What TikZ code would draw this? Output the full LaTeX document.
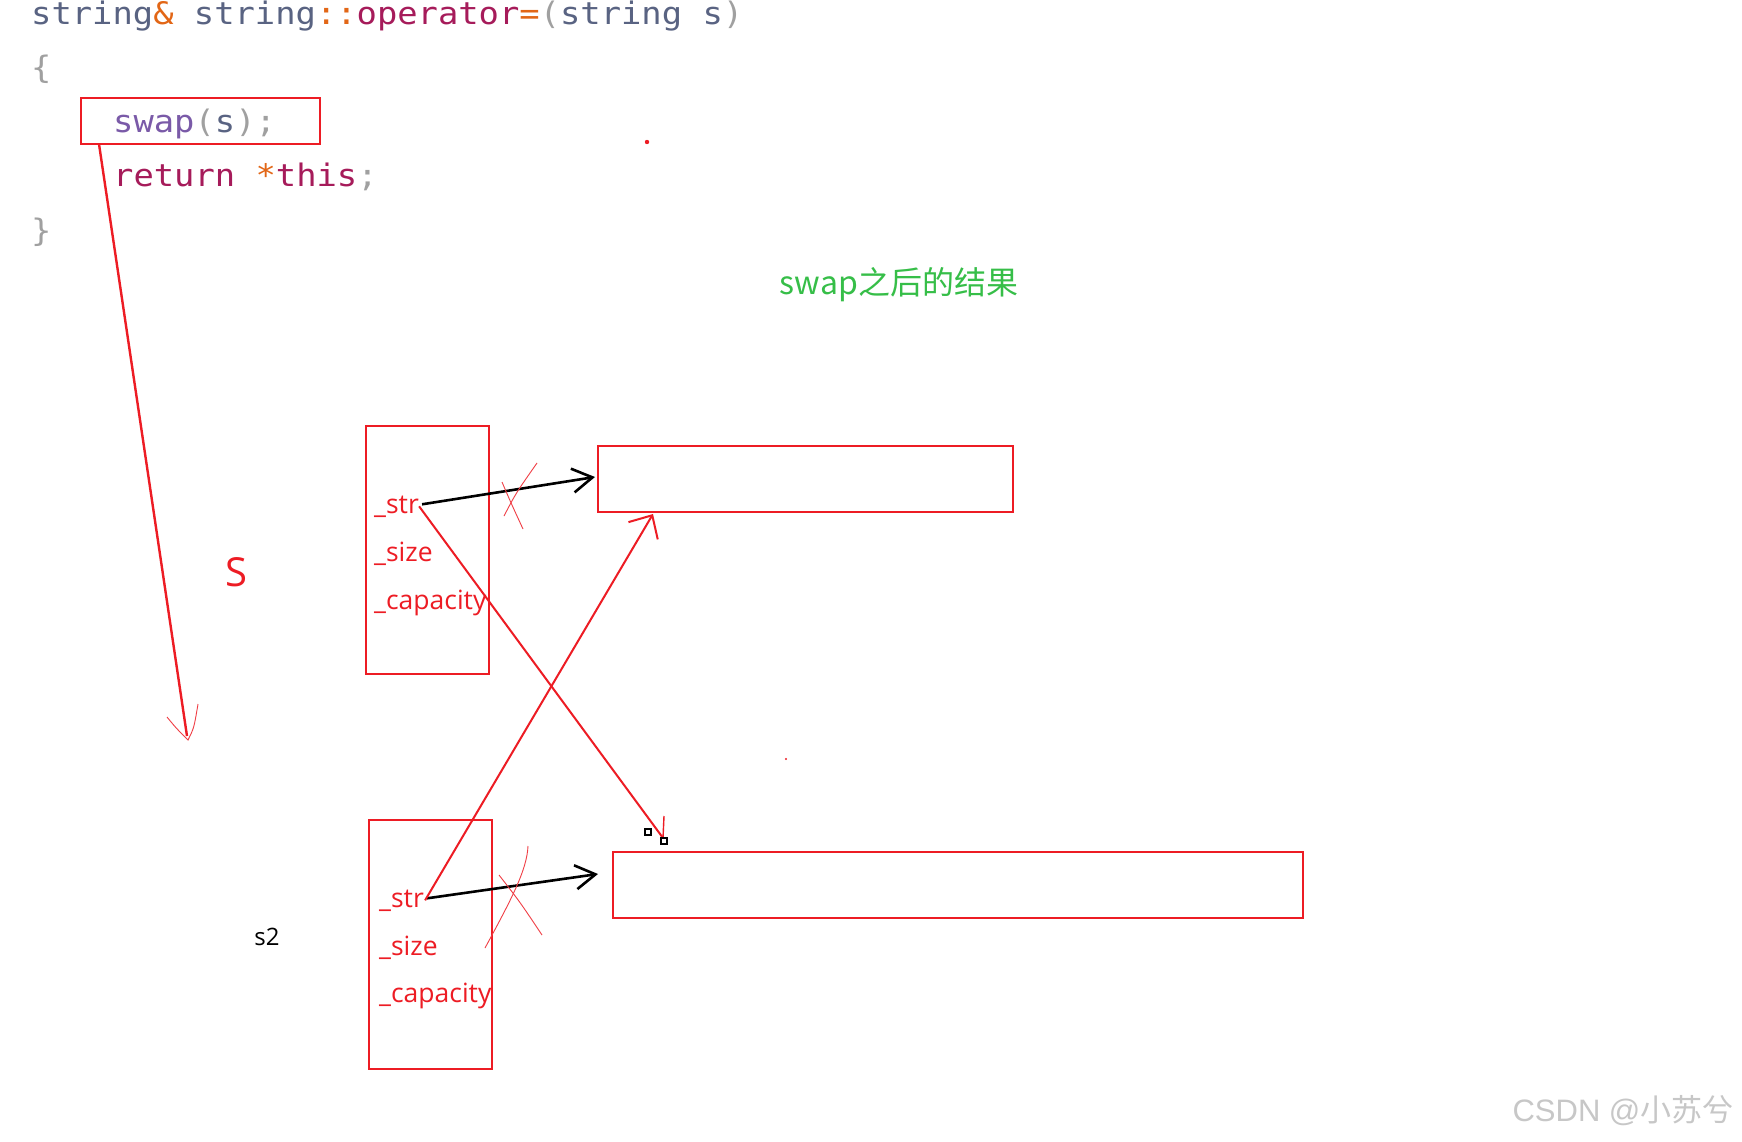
\documentclass[tikz,border=0pt]{standalone}
\usepackage{fontspec}
\usepackage{tikz}
\usetikzlibrary{arrows.meta,positioning}
\newfontfamily\codefont[FakeStretch=1.09]{DejaVu Sans Mono}
\newfontfamily\labelfont{Open Sans}
\newfontfamily\cjkfont{Noto Sans CJK SC}
\newfontfamily\markfont{Liberation Sans}
\definecolor{paintred}{RGB}{237,28,36}
\definecolor{codeslate}{RGB}{89,99,130}
\definecolor{codeorange}{RGB}{226,102,22}
\definecolor{codecrimson}{RGB}{166,27,90}
\definecolor{codepurple}{RGB}{122,90,168}
\definecolor{codegray}{RGB}{160,160,160}
\definecolor{resultgreen}{RGB}{54,190,72}
\newcommand{\codeType}[1]{\textcolor{codeslate}{#1}}
\newcommand{\codeOp}[1]{\textcolor{codeorange}{#1}}
\newcommand{\codeKw}[1]{\textcolor{codecrimson}{#1}}
\newcommand{\codeFn}[1]{\textcolor{codepurple}{#1}}
\newcommand{\codePunct}[1]{\textcolor{codegray}{#1}}
\tikzset{
  codeline/.style={anchor=base west, inner sep=0pt, font=\codefont\fontsize{31}{31}\selectfont},
  membox/.style={draw=paintred, line width=2.6pt, anchor=north west, inner sep=0pt, outer sep=0pt},
  field/.style={anchor=base west, inner sep=0pt, text=paintred, font=\labelfont\fontsize{26.5}{26.5}\selectfont},
  ptr/.style={line width=2.6pt, -{Straight Barb[length=20pt,width=24pt]}},
  scribble/.style={paintred!85, line width=0.9pt},
}

\begin{document}
\begin{tikzpicture}[x=1pt,y=-1pt]
  \fill[white] (0,0) rectangle (1742,1142);
  \useasboundingbox (0,0) rectangle (1742,1142);
  % code
  \node[codeline] (sig) at (31,25) {\codeType{string}\codeOp{\&} \codeType{string}\codeOp{::}\codeKw{operator}\codeOp{=}\codePunct{(}\codeType{string s}\codePunct{)}};
  \node[codeline] (open) at (31,79) {\codePunct{\{}};
  \node[codeline] (swapcall) at (113,133) {\codeFn{swap}\codePunct{(}\codeType{s}\codePunct{);}};
  \node[codeline] (ret) at (113,187) {\codeKw{return} \codeOp{*}\codeKw{this}\codePunct{;}};
  \node[codeline] (close) at (31,241) {\codePunct{\}}};
  \node[membox, minimum width=239pt, minimum height=46pt] (swapbox) at (81,98) {};
  \fill[paintred] (647,142) circle (2.2);
  \fill[paintred] (786,759) circle (1.1);

  % arrow down to s
  \coordinate (sTip) at (187,736);
  \draw[paintred, line width=2.4pt] ([xshift=18pt]swapbox.south west) -- (sTip);
  \draw[scribble] (167,717) .. controls (176,728) .. (188,740) .. controls (194,728) .. (198,704);
  \node[text=paintred, font=\labelfont\fontsize{40}{40}\selectfont] (sLabel) at (236,572) {S};
  \node[font=\labelfont\fontsize{24}{24}\selectfont] (sTwo) at (267,937) {s2};

  % title
  \node[text=resultgreen, font=\cjkfont\fontsize{32}{32}\selectfont] (result) at (899,285) {swap之后的结果};

  % s
  \node[membox, minimum width=123pt, minimum height=248pt] (boxS) at (366,426) {};
  \node[field] (strS) at (374,513) {\_str};
  \node[field] (sizeS) at (374,561) {\_size};
  \node[field] (capS) at (374,609) {\_capacity};
  \node[membox, minimum width=415pt, minimum height=66pt] (bufS) at (598,446) {};

  % s2
  \node[membox, minimum width=123pt, minimum height=249pt] (boxT) at (369,820) {};
  \node[field] (strT) at (379,907) {\_str};
  \node[field] (sizeT) at (379,955) {\_size};
  \node[field] (capT) at (379,1002) {\_capacity};
  \node[membox, minimum width=690pt, minimum height=66pt] (bufT) at (613,852) {};

  % old pointers
  \draw[ptr] ([xshift=3pt,yshift=2pt]strS.east) -- ([xshift=-3pt,yshift=2pt]bufS.west);
  \draw[ptr] ([xshift=3pt,yshift=2pt]strT.east) -- ([xshift=-15pt,yshift=11pt]bufT.west);
  \draw[scribble] (537,463) .. controls (516,493) .. (504,516);
  \draw[scribble] (502,482) .. controls (511,503) .. (523,529);
  \draw[scribble] (528,846) .. controls (527,870) and (511,900) .. (485,948);
  \draw[scribble] (499,875) .. controls (520,902) .. (542,935);

  % new pointers after swap
  \coordinate (oldT) at (663,838);
  \draw[paintred, line width=2pt] (strS.east) -- (oldT);
  \draw[paintred, line width=1.4pt] (oldT) -- (664,816);
  \draw[paintred, line width=2pt, -{Straight Barb[length=18pt,width=34pt]}] ([xshift=1pt]strT.east) -- ([xshift=55pt,yshift=-2pt]bufS.south west);
  \draw[black, fill=white, line width=1.2pt] (645,829) rectangle (651,835);
  \draw[black, fill=white, line width=1.2pt] (661,838) rectangle (667,844);

  % watermark
  \node[text=black!22, font=\markfont\fontsize{31}{31}\selectfont, anchor=east] (mark) at (1737,1111) {CSDN @{\cjkfont 小苏兮}};
\end{tikzpicture}
\end{document}
